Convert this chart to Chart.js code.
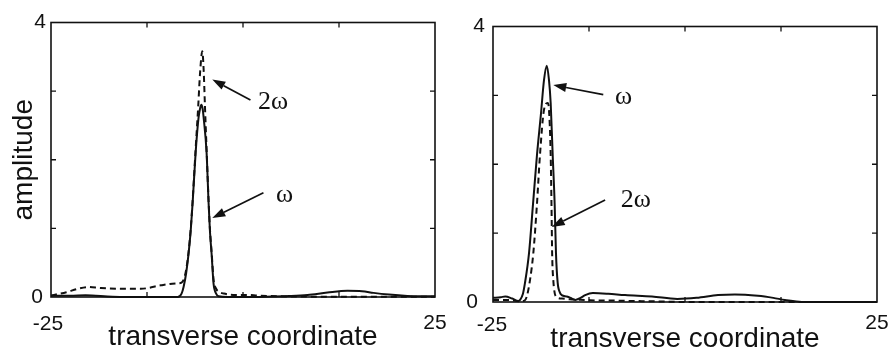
<!DOCTYPE html>
<html>
<head>
<meta charset="utf-8">
<title>Transverse amplitude profiles</title>
<script src="https://cdn.jsdelivr.net/npm/chart.js@4.4.1/dist/chart.umd.min.js"></script>
<style>
  html, body { margin: 0; padding: 0; background: #fff; }
  #wrap { position: relative; width: 893px; height: 353px; overflow: hidden; }
  #wrap canvas { position: absolute; left: 0; top: 0; }
</style>
</head>
<body>
<div id="wrap">
  <canvas id="panelA" width="893" height="353"></canvas>
  <canvas id="panelB" width="893" height="353"></canvas>
</div>
<script>
// Axis ranges, tick marks and tick labels shared by both panels
const xRange = [-25, 25];
const yRange = [0, 4];
const xTickMarks = [-12.5, 0, 12.5];
const yTickMarks = [1, 2, 3];
const xTickLabels = ['-25', '25'];
const yTickLabels = ['0', '4'];
const xTitle = 'transverse coordinate';
const yTitle = 'amplitude';
const seriesNames = ['ω', '2ω'];

// Panel A: fundamental (ω) profile
const aOmegaX = [-25, -22.5, -20.5, -17, -12, -9, -8.5, -8.0, -7.73, -7.4, -7.08, -6.8, -6.56, -6.17, -5.78, -5.6, -5.43, -5.25, -5.13, -4.74, -4.48, -4.3, -4.09, -3.83, -3.5, -3.18, -2, -0.3, 3, 6, 8.4, 11, 13.6, 15.5, 17, 19, 21.4, 23, 25];
const aOmegaY = [0.02, 0.02, 0.025, 0.005, 0.0, 0.0, 0.0, 0.05, 0.15, 0.35, 0.64, 0.98, 1.37, 2.10, 2.62, 2.74, 2.80, 2.74, 2.62, 2.10, 1.37, 0.95, 0.63, 0.19, 0.05, 0.01, 0.0, 0.0, 0.005, 0.015, 0.03, 0.065, 0.09, 0.085, 0.06, 0.035, 0.015, 0.01, 0.01];

// Panel A: second-harmonic (2ω) profile
const aTwoOmegaX = [-25, -24.6, -23, -21.5, -20.2, -18.5, -16, -13.3, -10.7, -9.5, -8.5, -8.0, -7.7, -7.4, -7.08, -6.8, -6.56, -6.17, -5.82, -5.6, -5.3, -5.12, -4.96, -4.74, -4.48, -4.3, -4.09, -3.83, -3.5, -3.2, -2.5, -1, 0.5, 2, 5, 10, 25];
const aTwoOmegaY = [0.02, 0.03, 0.07, 0.12, 0.145, 0.13, 0.12, 0.12, 0.17, 0.19, 0.2, 0.21, 0.26, 0.4, 0.66, 1.0, 1.4, 2.15, 2.8, 3.25, 3.58, 3.3, 2.8, 2.15, 1.4, 0.98, 0.66, 0.25, 0.12, 0.08, 0.05, 0.03, 0.03, 0.02, 0.01, 0.005, 0.005];

// Panel B: fundamental (ω) profile
const bOmegaX = [-25, -24, -23.4, -22.5, -21.7, -21.48, -21.1, -20.83, -20.31, -19.79, -19.27, -18.75, -18.36, -18.0, -17.71, -17.49, -17.23, -16.97, -16.8, -16.58, -16.3, -16.05, -15.4, -14.9, -14.3, -13.6, -13.0, -12.0, -10, -7.8, -4.3, -1.0, 1.5, 4.3, 6.5, 9.5, 11.5, 13.0, 15.2, 18, 25];
const bOmegaY = [0.06, 0.07, 0.08, 0.05, 0.015, 0.03, 0.12, 0.28, 0.71, 1.42, 2.14, 2.74, 3.22, 3.43, 3.22, 2.89, 2.14, 1.42, 0.71, 0.28, 0.14, 0.10, 0.08, 0.06, 0.03, 0.06, 0.10, 0.13, 0.12, 0.10, 0.08, 0.045, 0.06, 0.10, 0.11, 0.09, 0.06, 0.03, 0.0, 0.0, 0.0];

// Panel B: second-harmonic (2ω) profile
const bTwoOmegaX = [-25, -23, -21.5, -20.9, -20.6, -20.18, -19.75, -19.3, -18.88, -18.36, -17.88, -17.71, -17.49, -17.38, -17.3, -17.15, -16.8, -16.0, -15, -13, -11, -9, -7, -4, 0, 25];
const bTwoOmegaY = [0.03, 0.03, 0.01, 0.02, 0.08, 0.32, 0.71, 1.38, 2.14, 2.79, 2.89, 2.79, 2.14, 1.38, 0.71, 0.32, 0.08, 0.05, 0.04, 0.03, 0.02, 0.02, 0.015, 0.01, 0.0, 0.0];

const INK = '#111';
const SANS = '"Liberation Sans", Arial, Helvetica, sans-serif';
const SERIF = '"Liberation Serif", "Times New Roman", serif';

function toPoints(xs, ys) {
  return xs.map((x, i) => ({ x: x, y: ys[i] }));
}

// Arrow with filled head, from tail to head (pixel coords)
function drawArrow(ctx, x0, y0, x1, y1) {
  const ang = Math.atan2(y1 - y0, x1 - x0);
  const len = 13, half = 4.5;
  const bx = x1 - len * Math.cos(ang), by = y1 - len * Math.sin(ang);
  ctx.beginPath();
  ctx.moveTo(x0, y0);
  ctx.lineTo(bx, by);
  ctx.lineWidth = 1.7;
  ctx.stroke();
  ctx.beginPath();
  ctx.moveTo(x1, y1);
  ctx.lineTo(bx + half * Math.sin(ang), by - half * Math.cos(ang));
  ctx.lineTo(bx - half * Math.sin(ang), by + half * Math.cos(ang));
  ctx.closePath();
  ctx.fill();
}

// Box frame, inward ticks, tick labels, axis titles and arrow notes
const panelDecor = {
  id: 'panelDecor',
  afterDraw(chart, args, o) {
    const { ctx, chartArea: a, scales: { x, y } } = chart;
    ctx.save();
    ctx.strokeStyle = INK;
    ctx.fillStyle = INK;

    ctx.lineWidth = 1.6;
    ctx.strokeRect(a.left, a.top, a.right - a.left, a.bottom - a.top);

    ctx.beginPath();
    xTickMarks.forEach(v => {
      const px = x.getPixelForValue(v);
      ctx.moveTo(px, a.top); ctx.lineTo(px, a.top + 5);
      ctx.moveTo(px, a.bottom); ctx.lineTo(px, a.bottom - 5);
    });
    yTickMarks.forEach(v => {
      const py = y.getPixelForValue(v);
      ctx.moveTo(a.left, py); ctx.lineTo(a.left + 5, py);
      ctx.moveTo(a.right, py); ctx.lineTo(a.right - 5, py);
    });
    ctx.lineWidth = 1.3;
    ctx.stroke();

    // tick labels
    ctx.font = '21px ' + SANS;
    ctx.textBaseline = 'middle';
    ctx.textAlign = 'center';
    ctx.fillText(xTickLabels[0], x.getPixelForValue(xRange[0]) + o.xLab[0][0], a.bottom + o.xLab[0][1]);
    ctx.fillText(xTickLabels[1], x.getPixelForValue(xRange[1]) + o.xLab[1][0], a.bottom + o.xLab[1][1]);
    ctx.textAlign = 'right';
    ctx.fillText(yTickLabels[0], a.left - o.yLab[0][0], y.getPixelForValue(yRange[0]) + o.yLab[0][1]);
    ctx.fillText(yTickLabels[1], a.left - o.yLab[1][0], y.getPixelForValue(yRange[1]) + o.yLab[1][1]);

    // axis titles
    ctx.font = '28px ' + SANS;
    ctx.textAlign = 'center';
    ctx.textBaseline = 'alphabetic';
    ctx.fillText(xTitle, (a.left + a.right) / 2, a.bottom + o.xTitleDrop);
    if (o.showYTitle) {
      ctx.save();
      ctx.translate(a.left - 27, (a.top + a.bottom) / 2);
      ctx.rotate(-Math.PI / 2);
      ctx.textBaseline = 'middle';
      ctx.fillText(yTitle, 0, 0);
      ctx.restore();
    }

    // arrow notes, placed in data coordinates
    ctx.font = '26px ' + SERIF;
    ctx.textAlign = 'center';
    ctx.textBaseline = 'middle';
    o.notes.forEach(n => {
      drawArrow(ctx,
        x.getPixelForValue(n.tail[0]), y.getPixelForValue(n.tail[1]),
        x.getPixelForValue(n.head[0]), y.getPixelForValue(n.head[1]));
      ctx.fillText(n.text, x.getPixelForValue(n.at[0]), y.getPixelForValue(n.at[1]));
    });
    ctx.restore();
  }
};

function makePanel(id, omega, twoOmega, box, decor) {
  const canvas = document.getElementById(id);
  return new Chart(canvas, {
    type: 'scatter',
    data: {
      datasets: [
        {
          label: seriesNames[0],
          data: omega,
          showLine: true,
          borderColor: INK,
          borderWidth: 2,
          pointRadius: 0,
          cubicInterpolationMode: 'monotone',
          clip: false
        },
        {
          label: seriesNames[1],
          data: twoOmega,
          showLine: true,
          borderColor: INK,
          borderWidth: 2,
          borderDash: [6, 4],
          pointRadius: 0,
          cubicInterpolationMode: 'monotone',
          clip: false
        }
      ]
    },
    options: {
      responsive: false,
      devicePixelRatio: 1,
      animation: false,
      events: [],
      layout: {
        padding: { left: box.left, top: box.top, right: 893 - box.right, bottom: 353 - box.bottom }
      },
      scales: {
        x: { type: 'linear', min: xRange[0], max: xRange[1], display: false },
        y: { type: 'linear', min: yRange[0], max: yRange[1], display: false }
      },
      plugins: {
        legend: { display: false },
        tooltip: { enabled: false },
        panelDecor: decor
      }
    },
    plugins: [panelDecor]
  });
}

makePanel('panelA',
  toPoints(aOmegaX, aOmegaY),
  toPoints(aTwoOmegaX, aTwoOmegaY),
  { left: 51, right: 435, top: 22.5, bottom: 297 },
  {
    showYTitle: true,
    xTitleDrop: 48,
    xLab: [[-3, 27], [0, 26]],
    yLab: [[8, 0], [5, 0]],
    notes: [
      { text: seriesNames[1], at: [3.9, 2.84], tail: [0.97, 2.87], head: [-4.0, 3.17] },
      { text: seriesNames[0], at: [5.4, 1.49], tail: [2.66, 1.52], head: [-4.0, 1.15] }
    ]
  });

makePanel('panelB',
  toPoints(bOmegaX, bOmegaY),
  toPoints(bTwoOmegaX, bTwoOmegaY),
  { left: 493, right: 877, top: 26.5, bottom: 302 },
  {
    showYTitle: false,
    xTitleDrop: 45,
    xLab: [[-1, 23], [0, 21]],
    yLab: [[15, 0], [8, 0]],
    notes: [
      { text: seriesNames[0], at: [-8.0, 2.97], tail: [-10.64, 3.01], head: [-17.15, 3.15] },
      { text: seriesNames[1], at: [-6.4, 1.48], tail: [-10.4, 1.48], head: [-17.36, 1.09] }
    ]
  });
</script>
</body>
</html>
